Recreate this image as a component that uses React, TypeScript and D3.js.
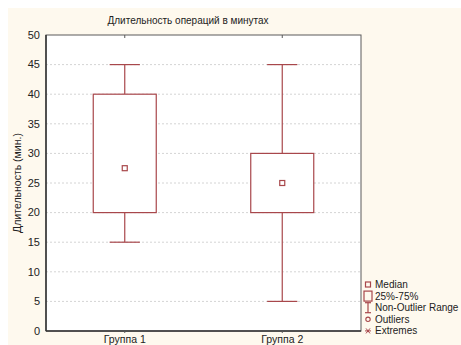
import React from "react";
import * as d3 from "d3";

// Box-plot statistics for the two groups (minutes)
const groups = ["Группа 1", "Группа 2"];
const medians = [27.5, 25];
const q1 = [20, 20];
const q3 = [40, 30];
const whiskerLow = [15, 5];
const whiskerHigh = [45, 45];

const yTicks = [0, 5, 10, 15, 20, 25, 30, 35, 40, 45, 50];
const legendItems = ["Median", "25%-75%", "Non-Outlier Range", "Outliers", "Extremes"];

const title = "Длительность операций в минутах";
const yTitle = "Длительность (мин.)";

const W = 453;
const H = 337;
const plot = { left: 38, top: 27, right: 353, bottom: 323 };
const boxColor = "#a8474b";
const axisColor = "#5a5a5a";
const font = "'Liberation Sans', Arial, sans-serif";

export default function App() {
  const y = d3.scaleLinear().domain([0, 50]).range([plot.bottom, plot.top]);
  const x = d3
    .scalePoint<string>()
    .domain(groups)
    .range([plot.left, plot.right])
    .padding(0.5);
  const plotW = plot.right - plot.left;
  const boxW = plotW * 0.2;
  const capW = boxW * 0.48;
  const legendX = 356;
  const legendY0 = 276.5;
  const legendStep = 11.6;

  return (
    <svg
      width={W}
      height={H}
      style={{ display: "block", position: "absolute", left: 8, top: 8 }}
      fontFamily={font}
    >
      <rect x={0} y={0} width={W} height={H} fill="#fef9ee" />
      <rect
        x={plot.left}
        y={plot.top}
        width={plotW}
        height={plot.bottom - plot.top}
        fill="#ffffff"
      />
      {/* horizontal grid */}
      {yTicks
        .filter((t) => t > 0 && t < 50)
        .map((t) => (
          <line
            key={"g" + t}
            x1={plot.left}
            x2={plot.right}
            y1={y(t)}
            y2={y(t)}
            stroke="#d4d4d4"
            strokeWidth={1}
            strokeDasharray="2,2"
          />
        ))}
      {/* frame */}
      <rect
        x={plot.left}
        y={plot.top}
        width={plotW}
        height={plot.bottom - plot.top}
        fill="none"
        stroke={axisColor}
        strokeWidth={1}
      />
      <line x1={plot.left} x2={plot.left} y1={plot.top} y2={plot.bottom} stroke="#333" strokeWidth={1.5} />
      <line x1={plot.left} x2={plot.right} y1={plot.bottom} y2={plot.bottom} stroke="#333" strokeWidth={1.5} />
      {/* category ticks */}
      {groups.map((g) => (
        <g key={"t" + g}>
          <line x1={x(g)} x2={x(g)} y1={plot.top} y2={plot.top + 3} stroke={axisColor} />
          <line x1={x(g)} x2={x(g)} y1={plot.bottom} y2={plot.bottom + 2} stroke={axisColor} />
        </g>
      ))}
      {/* y tick labels */}
      {yTicks.map((t) => (
        <text
          key={"l" + t}
          x={plot.left - 6}
          y={y(t)}
          dy="0.35em"
          textAnchor="end"
          fontSize={11}
          fill="#222"
        >
          {t}
        </text>
      ))}
      {/* boxes */}
      {groups.map((g, i) => {
        const cx = x(g) as number;
        return (
          <g key={"b" + g} stroke={boxColor} strokeWidth={1.2} fill="none">
            <line x1={cx} x2={cx} y1={y(whiskerHigh[i])} y2={y(q3[i])} />
            <line x1={cx} x2={cx} y1={y(q1[i])} y2={y(whiskerLow[i])} />
            <line x1={cx - capW / 2} x2={cx + capW / 2} y1={y(whiskerHigh[i])} y2={y(whiskerHigh[i])} />
            <line x1={cx - capW / 2} x2={cx + capW / 2} y1={y(whiskerLow[i])} y2={y(whiskerLow[i])} />
            <rect
              x={cx - boxW / 2}
              y={y(q3[i])}
              width={boxW}
              height={y(q1[i]) - y(q3[i])}
              fill="#ffffff"
            />
            <rect x={cx - 2.5} y={y(medians[i]) - 2.5} width={5} height={5} fill="#ffffff" />
          </g>
        );
      })}
      {/* x labels */}
      {groups.map((g) => (
        <text
          key={"x" + g}
          x={x(g)}
          y={plot.bottom + 12}
          textAnchor="middle"
          fontSize={10.5}
          fill="#222"
        >
          {g}
        </text>
      ))}
      {/* titles */}
      <text x={180} y={16} textAnchor="middle" fontSize={10} fill="#222">
        {title}
      </text>
      <text
        transform={`translate(13,${(plot.top + plot.bottom) / 2}) rotate(-90)`}
        textAnchor="middle"
        fontSize={10.5}
        fill="#222"
      >
        {yTitle}
      </text>
      {/* legend */}
      {legendItems.map((label, i) => {
        const cy = legendY0 + i * legendStep;
        const mx = legendX + 4;
        let marker: React.ReactNode = null;
        if (i === 0) {
          marker = <rect x={mx - 2.5} y={cy - 2.5} width={5} height={5} fill="none" stroke={boxColor} strokeWidth={1.2} />;
        } else if (i === 1) {
          marker = <rect x={mx - 4} y={cy - 5} width={8} height={10} fill="none" stroke={boxColor} strokeWidth={1.2} />;
        } else if (i === 2) {
          marker = (
            <g stroke={boxColor} strokeWidth={1.2}>
              <line x1={mx - 3} x2={mx + 3} y1={cy - 5} y2={cy - 5} />
              <line x1={mx} x2={mx} y1={cy - 5} y2={cy + 5} />
              <line x1={mx - 3} x2={mx + 3} y1={cy + 5} y2={cy + 5} />
            </g>
          );
        } else if (i === 3) {
          marker = <circle cx={mx} cy={cy} r={2.2} fill="none" stroke={boxColor} strokeWidth={1.1} />;
        } else {
          marker = (
            <g stroke={boxColor} strokeWidth={1}>
              <line x1={mx - 3} x2={mx + 3} y1={cy} y2={cy} />
              <line x1={mx - 2} x2={mx + 2} y1={cy - 2.5} y2={cy + 2.5} />
              <line x1={mx - 2} x2={mx + 2} y1={cy + 2.5} y2={cy - 2.5} />
            </g>
          );
        }
        return (
          <g key={label}>
            {marker}
            <text x={legendX + 11} y={cy} dy="0.35em" fontSize={10} fill="#222">
              {label}
            </text>
          </g>
        );
      })}
    </svg>
  );
}
